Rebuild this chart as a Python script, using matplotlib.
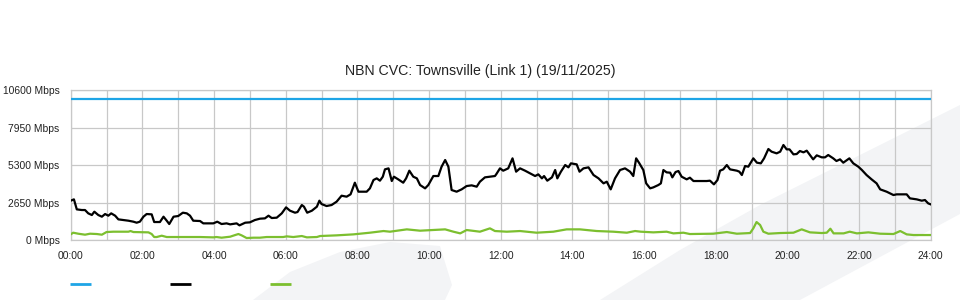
import matplotlib
matplotlib.use("Agg")
import matplotlib.pyplot as plt
from matplotlib.patches import Polygon

plt.rcParams['font.family'] = ['Liberation Sans', 'DejaVu Sans']

title = "NBN CVC: Townsville (Link 1) (19/11/2025)"
capacity = 10000  # Mbps, flat line

# black series (hour of day, Mbps)
black_t = [0.00, 0.09, 0.17, 0.31, 0.40, 0.49, 0.59, 0.66, 0.77, 0.87, 0.96, 1.05, 1.13, 1.24,
           1.33, 1.47, 1.61, 1.75, 1.84, 1.93, 2.03, 2.12, 2.26, 2.33, 2.49, 2.59, 2.68, 2.75,
           2.87, 3.00, 3.13, 3.24, 3.33, 3.42, 3.61, 3.70, 3.98, 4.09, 4.21, 4.35, 4.45, 4.63,
           4.71, 4.87, 5.00, 5.14, 5.28, 5.42, 5.52, 5.61, 5.75, 5.89, 6.01, 6.12, 6.26, 6.33,
           6.45, 6.51, 6.60, 6.73, 6.87, 6.94,
           7.00, 7.14, 7.28, 7.42, 7.56, 7.70, 7.81, 7.93, 8.03, 8.26, 8.35, 8.45, 8.54, 8.63,
           8.71, 8.77, 8.87, 8.96, 9.02, 9.14, 9.28, 9.36, 9.45, 9.56, 9.66, 9.75, 9.89, 9.98,
           10.12, 10.26, 10.35, 10.45, 10.54, 10.63, 10.77, 10.91, 11.05, 11.19, 11.33, 11.42,
           11.56, 11.70, 11.84, 11.88, 11.98, 12.07, 12.21, 12.33, 12.43, 12.54, 12.68, 12.82,
           12.96, 13.05, 13.15, 13.21, 13.30, 13.43, 13.52, 13.58, 13.68, 13.80, 13.89, 13.96,
           14.12, 14.20, 14.31, 14.45, 14.59, 14.73, 14.87, 14.96, 15.07, 15.19, 15.33, 15.47,
           15.61, 15.70, 15.78, 15.87,
           15.98, 16.06, 16.17, 16.26, 16.40, 16.47, 16.54, 16.63, 16.73, 16.79, 16.88, 16.96,
           17.05, 17.19, 17.28, 17.38, 17.75, 17.84, 17.95, 18.05, 18.12, 18.21, 18.31, 18.40,
           18.59, 18.66, 18.73, 18.82, 18.91, 19.05, 19.15, 19.26, 19.35, 19.47, 19.56, 19.70,
           19.80, 19.89, 19.98, 20.06, 20.17, 20.26, 20.35, 20.45, 20.54, 20.63, 20.72, 20.82,
           20.96, 21.05, 21.14, 21.28, 21.37, 21.47, 21.56, 21.73, 21.84, 21.98, 22.08, 22.21,
           22.35, 22.49, 22.59, 22.77, 22.96, 23.05, 23.33, 23.42, 23.61, 23.75, 23.84, 23.93,
           24.00]
black_v = [2792, 2886, 2179, 2132, 2132, 1897, 1779, 2014, 1779, 1661, 1850, 1732, 1897, 1732,
           1472, 1425, 1378, 1308, 1237, 1308, 1661, 1850, 1826, 1284, 1284, 1661, 1378, 1143,
           1661, 1708, 1944, 1897, 1732, 1378, 1355, 1190, 1190, 1308, 1143, 1190, 1119, 1190,
           1049, 1237, 1261, 1425, 1520, 1543, 1732, 1567, 1591, 1897, 2321, 2085, 1944, 1991,
           2486, 2368, 1944, 2085, 2368, 2792,
           2556, 2415, 2486, 2721, 3145, 3075, 3240, 4064, 3428, 3428, 3664, 4253, 4370, 4206,
           4488, 5006, 5077, 4182, 4488, 4300, 4064, 4370, 4912, 4488, 4370, 3899, 3664, 3899,
           4535, 4535, 5195, 5666, 5195, 3546, 3428, 3593, 3828, 3876, 3781, 4135,
           4441, 4488, 4535, 4677, 5077, 4912, 5077, 5784, 4842, 5077, 4912, 4724,
           4535, 4653, 4370, 4535, 4206, 4441, 4959, 4370, 4842, 5313, 5148, 5431,
           5360, 4842, 5077, 5148, 4606, 4370, 4017, 4135, 3593, 4370, 4959, 5077,
           4842, 4535, 5784, 5431,
           4959, 4017, 3664, 3734, 3899, 4017, 4959, 4794, 4771, 4441, 4818, 4889,
           4488, 4300, 4418, 4182, 4182, 4206, 3946, 4253, 4912, 5006, 5313, 5006,
           4912, 4842, 4606, 5242, 5195, 5784, 5478, 5431, 5784, 6444, 6255, 6137,
           6255, 6727, 6420, 6420, 6067, 6090, 6302, 6208, 6326, 6020, 5713, 5996,
           5855, 5855, 6020, 5784, 5596, 5713, 5478, 5784, 5431, 5195, 4959, 4606,
           4300, 4017, 3593, 3428, 3192, 3240, 3240, 2957, 2886, 2792, 2839, 2603,
           2533]

# green series (hour of day, Mbps)
green_t = [0.00, 0.07, 0.21, 0.40, 0.54, 0.73, 0.87, 1.00, 1.19, 1.61, 1.67, 1.75, 2.17, 2.26,
           2.33, 2.40, 2.54, 2.68, 3.61, 3.98, 4.07, 4.21, 4.45, 4.59, 4.68, 4.77, 4.91, 5.10,
           5.28, 5.47, 5.93, 6.03, 6.21, 6.45, 6.59, 6.87, 6.96,
           7.42, 7.89, 8.35, 8.73, 8.91, 9.38, 9.75, 10.45, 10.68, 10.87, 11.05, 11.42, 11.70,
           11.84, 12.17, 12.54, 13.00, 13.47, 13.84, 14.21, 14.68, 15.14, 15.52, 15.75, 15.91,
           16.26, 16.63, 16.82, 17.10, 17.28, 17.93, 18.31, 18.59, 18.96, 19.05, 19.14, 19.24,
           19.33, 19.47, 19.80, 20.17, 20.40, 20.63, 20.96, 21.10, 21.20, 21.29, 21.57, 21.74,
           21.94, 22.26, 22.59, 22.96, 23.15, 23.33, 23.52, 23.80, 24.00]
green_v = [412, 530, 459, 389, 459, 436, 389, 577, 601, 601, 648, 577, 554, 436,
           224, 224, 318, 224, 224, 200, 224, 177, 247, 365, 436, 342, 153, 177,
           177, 224, 224, 271, 224, 295, 200, 224, 295,
           342, 412, 530, 648, 601, 766, 672, 766, 601, 483, 719, 601, 837,
           648, 601, 648, 530, 601, 766, 766, 648, 601, 530, 648, 601,
           554, 601, 483, 530, 436, 459, 577, 459, 506, 837, 1284, 1072,
           601, 459, 506, 530, 766, 554, 506, 530, 813, 483, 483, 601,
           483, 554, 459, 436, 648, 412, 365, 365, 365]

y_ticks = [0, 2650, 5300, 7950, 10600]
x_hours = list(range(0, 25))

BLUE = '#1ea5e6'
GREEN = '#7cbf2f'
GRID = '#c8c8c8'

fig = plt.figure(figsize=(9.6, 3.0), dpi=100)

# faint background watermark shapes (figure pixel coords, y from top)
W, H = 960.0, 300.0
def px(pts):
    return [(x / W, 1 - y / H) for x, y in pts]
shapes = [
    [(253, 300), (290, 272), (340, 252), (390, 242), (440, 246), (452, 285), (445, 300)],
    [(600, 300), (680, 250), (760, 205), (960, 105), (960, 214), (800, 300)],
]
for s in shapes:
    fig.patches.append(Polygon(px(s), closed=True, transform=fig.transFigure,
                               facecolor='#f3f4f6', edgecolor='none', zorder=-5))

ax = fig.add_axes([70.7 / W, 1 - 240.2 / H, 860 / W, 150 / H])
ax.patch.set_alpha(0)

ax.plot([0, 24], [capacity, capacity], color=BLUE, lw=1.6, zorder=3)
ax.plot(black_t, black_v, color='black', lw=1.6, zorder=4)
ax.plot(green_t, green_v, color=GREEN, lw=1.6, zorder=3)

ax.set_xlim(0, 24)
ax.set_ylim(0, 10600)
ax.set_xticks(x_hours)
ax.set_xticklabels([f"{h:02d}:00" if h % 2 == 0 else "" for h in x_hours])
ax.set_yticks(y_ticks)
ax.set_yticklabels([f"{v} Mbps" for v in y_ticks])
ax.tick_params(length=0, labelsize=7.4, colors='#222222')
ax.tick_params(axis='y', pad=8)
ax.tick_params(axis='x', pad=8)
ax.grid(True, color=GRID, lw=0.9)
ax.set_axisbelow(True)
for sp in ax.spines.values():
    sp.set_color(GRID)
    sp.set_linewidth(0.9)

fig.text(0.5, 1 - 71 / H, title, ha='center', va='center', fontsize=10.2, color='#222222')

h1, = ax.plot([], [], color=BLUE, lw=2, solid_capstyle='butt')
h2, = ax.plot([], [], color='black', lw=2, solid_capstyle='butt')
h3, = ax.plot([], [], color=GREEN, lw=2, solid_capstyle='butt')
fig.legend([h1, h2, h3], ['', '', ''], ncol=3, frameon=False, fontsize=8,
           loc='center left', bbox_to_anchor=(70 / W, 1 - 285 / H),
           handlelength=1.9, handletextpad=0, columnspacing=7.1,
           borderpad=0, borderaxespad=0)

fig.savefig("out.png", dpi=100)
